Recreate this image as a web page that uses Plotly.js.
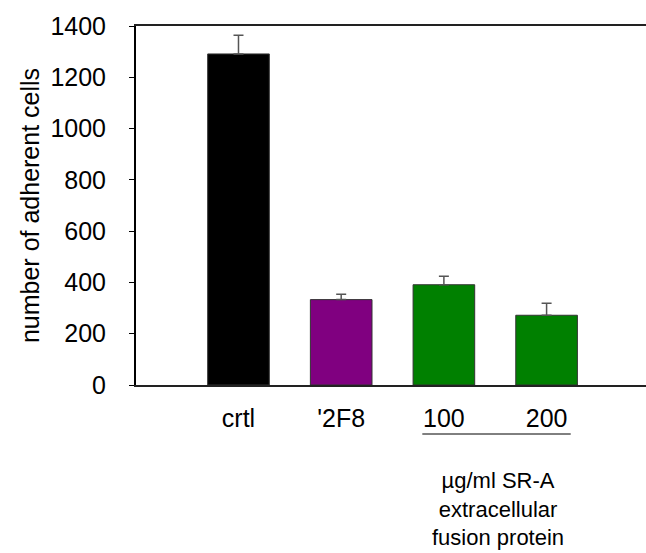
<!DOCTYPE html>
<html>
<head>
<meta charset="utf-8">
<script src="https://cdn.plot.ly/plotly-3.0.1.min.js"></script>
<style>html,body{margin:0;padding:0;background:#fff;}#chart{width:646px;height:553px;}</style>
</head>
<body>
<div id="chart"></div>
<script>
var categories = ["crtl", "'2F8", "100", "200"];
var values = [1291, 333, 391, 272];
var errorsUp = [73, 21, 33, 47];
var barColors = ["#000000", "#800080", "#008000", "#008000"];
var yTicks = [0, 200, 400, 600, 800, 1000, 1200, 1400];
var groupNote = "\u00b5g/ml SR-A<br>extracellular<br>fusion protein";

var font = "Liberation Sans, Arial, sans-serif";

var trace = {
  type: "bar",
  x: categories,
  y: values,
  width: 0.6,
  marker: {color: barColors, line: {color: "#333333", width: 1}},
  error_y: {type: "data", array: errorsUp, arrayminus: errorsUp.map(function(){return 0;}), symmetric: false,
            color: "#555555", thickness: 1.5, width: 5},
  hoverinfo: "none"
};

var layout = {
  width: 646, height: 553,
  margin: {l: 136, r: 0, t: 26, b: 168},
  paper_bgcolor: "#fff", plot_bgcolor: "#fff",
  showlegend: false,
  font: {family: font, size: 25, color: "#000"},
  xaxis: {
    type: "category",
    range: [-0.998, 3.968],
    showline: true, linecolor: "#222", linewidth: 2, mirror: true,
    ticks: "", showgrid: false, zeroline: false,
    tickfont: {family: font, size: 25, color: "#000"},
    ticklabelstandoff: 10
  },
  yaxis: {
    range: [0, 1400],
    tickvals: yTicks,
    ticks: "outside", ticklen: 5, tickcolor: "#000", tickwidth: 1,
    showline: true, linecolor: "#000", linewidth: 2,
    showgrid: false, zeroline: false,
    tickfont: {family: font, size: 25, color: "#000"},
    ticklabelstandoff: 18,
    title: {text: "number of adherent cells", font: {family: font, size: 25, color: "#000"}, standoff: 4}
  },
  shapes: [{
    type: "line", xref: "x", yref: "paper",
    x0: 1.79, x1: 3.235, y0: -0.1365, y1: -0.1365,
    line: {color: "#000", width: 1}
  }],
  annotations: [{
    xref: "x", yref: "paper", x: 2.53, y: -0.226,
    yanchor: "top", xanchor: "center",
    text: groupNote, showarrow: false,
    font: {family: font, size: 22, color: "#000"}
  }]
};

Plotly.newPlot("chart", [trace], layout, {displayModeBar: false, staticPlot: true});
</script>
</body>
</html>
